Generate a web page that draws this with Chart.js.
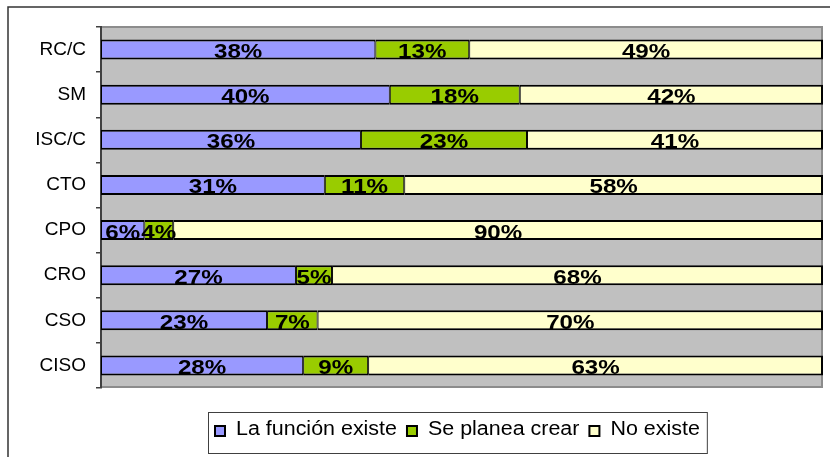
<!DOCTYPE html>
<html>
<head>
<meta charset="utf-8">
<title>Funciones de seguridad</title>
<script src="https://cdn.jsdelivr.net/npm/chart.js@4.4.1/dist/chart.umd.min.js"></script>
<style>
  body { margin: 0; background: #fff; }
  #wrap { width: 830px; height: 457px; }
</style>
</head>
<body>
<div id="wrap"><canvas id="roles-chart" width="830" height="457"></canvas></div>
<script>
// ROLES AND PERCENTAGES //

const roles = ['RC/C', 'SM', 'ISC/C', 'CTO', 'CPO', 'CRO', 'CSO', 'CISO'];
const existe = [38, 40, 36, 31, 6, 27, 23, 28];
const planea = [13, 18, 23, 11, 4, 5, 7, 9];
const noExiste = [49, 42, 41, 58, 90, 68, 70, 63];

const seriesNames = ['La función existe', 'Se planea crear', 'No existe'];
const seriesColors = ['#9999FF', '#99CC00', '#FFFFCC'];

const FONT = '"Liberation Sans", Arial, sans-serif';

// draws text squeezed/stretched sideways
function wideText(ctx, text, x, y, sx) {
    ctx.save();
    ctx.translate(x, y);
    ctx.scale(sx, 1);
    ctx.fillText(text, 0, 0);
    ctx.restore();
}

// gray plot area + outer frame
const plotBackground = {
    id: 'plotBackground',
    beforeDraw(chart) {
        const ctx = chart.ctx;
        const a = chart.chartArea;
        ctx.save();
        ctx.fillStyle = '#fff';
        ctx.fillRect(0, 0, chart.width, chart.height);

        ctx.strokeStyle = '#333';
        ctx.lineWidth = 1.5;
        ctx.beginPath();
        ctx.moveTo(8, chart.height + 5);
        ctx.lineTo(8, 7);
        ctx.lineTo(chart.width + 5, 7);
        ctx.stroke();

        ctx.fillStyle = '#C0C0C0';
        ctx.fillRect(a.left, a.top, a.right - a.left, a.bottom - a.top);

        ctx.strokeStyle = '#8c8c8c';
        ctx.lineWidth = 2;
        ctx.beginPath();
        ctx.moveTo(a.left, a.top);
        ctx.lineTo(a.right - 1, a.top);
        ctx.lineTo(a.right - 1, a.bottom - 1);
        ctx.lineTo(a.left, a.bottom - 1);
        ctx.stroke();
        ctx.restore();
    }
};

// percentage in the middle of every segment
const segmentLabels = {
    id: 'segmentLabels',
    afterDatasetsDraw(chart) {
        const ctx = chart.ctx;
        ctx.save();
        ctx.font = 'bold 21px ' + FONT;
        ctx.fillStyle = '#000';
        ctx.textAlign = 'center';
        ctx.textBaseline = 'alphabetic';
        chart.data.datasets.forEach((ds, i) => {
            const meta = chart.getDatasetMeta(i);
            meta.data.forEach((bar, j) => {
                const cx = (bar.x + bar.base) / 2;
                wideText(ctx, ds.data[j] + '%', cx, bar.y + 8.5, 1.15);
            });
        });
        ctx.restore();
    }
};

// boxed legend under the plot
const boxLegend = {
    id: 'boxLegend',
    afterDraw(chart) {
        const ctx = chart.ctx;
        const sx = 1.1;
        const sq = 10;
        ctx.save();
        ctx.font = '19.5px ' + FONT;
        const widths = chart.data.datasets.map(ds => ctx.measureText(ds.label).width * sx);
        const inner = widths.reduce((s, w) => s + w, 0) + chart.data.datasets.length * (sq + 11) + (widths.length - 1) * 10;
        const boxW = inner + 14;
        const boxX = Math.round(457.5 - boxW / 2);
        const boxY = 412, boxH = 41;
        const midY = boxY + 19;

        ctx.strokeStyle = '#404040';
        ctx.lineWidth = 1;
        ctx.strokeRect(boxX + 0.5, boxY + 0.5, boxW, boxH);

        let x = boxX + 7;
        ctx.textBaseline = 'middle';
        ctx.textAlign = 'left';
        chart.data.datasets.forEach((ds, i) => {
            ctx.fillStyle = ds.backgroundColor;
            ctx.fillRect(x, midY - sq / 2, sq, sq);
            ctx.strokeStyle = '#000';
            ctx.lineWidth = 2;
            ctx.strokeRect(x, midY - sq / 2, sq, sq);
            x += sq + 11;
            ctx.fillStyle = '#000';
            wideText(ctx, ds.label, x, midY - 1, sx);
            x += widths[i] + 10;
        });
        ctx.restore();
    }
};

const values = [existe, planea, noExiste];

const rolesData = {
    labels: roles,
    datasets: values.map((data, i) => ({
        label: seriesNames[i],
        data: data,
        backgroundColor: seriesColors[i],
        borderColor: '#000',
        borderWidth: { top: 2, bottom: 2, left: 1, right: i === 2 ? 2 : 1 },
        borderSkipped: false,
        categoryPercentage: 1,
        barPercentage: 0.445
    }))
};

const rolesOptions = {
    indexAxis: 'y',
    responsive: false,
    animation: false,
    layout: {
        padding: { top: 27, right: 7, bottom: 69, left: 0 }
    },
    scales: {
        x: {
            stacked: true,
            min: 0,
            max: 100,
            display: false
        },
        y: {
            stacked: true,
            afterFit(scale) {
                scale.width = 101;
            },
            grid: {
                drawOnChartArea: false,
                drawTicks: true,
                tickLength: 5,
                color: '#404040',
                lineWidth: 1.5
            },
            border: {
                display: true,
                color: '#404040',
                width: 2
            },
            ticks: {
                color: '#000',
                padding: 10,
                font: { family: FONT, size: 19 }
            }
        }
    },
    plugins: {
        legend: { display: false },
        tooltip: { enabled: false }
    }
};

const rolesChart = new Chart(document.getElementById('roles-chart'), {
    type: 'bar',
    data: rolesData,
    options: rolesOptions,
    plugins: [plotBackground, segmentLabels, boxLegend]
});
</script>
</body>
</html>
